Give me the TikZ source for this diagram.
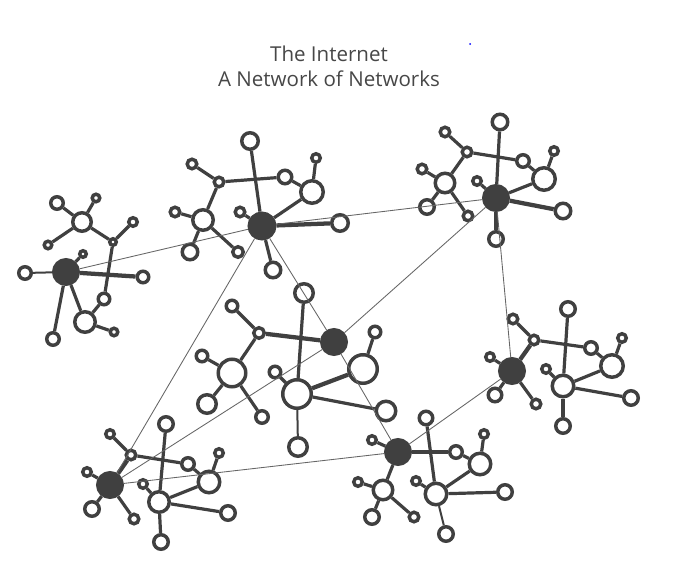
\documentclass[tikz,border=0pt]{standalone}
\usepackage{fontspec}
\setmainfont{Open Sans}
\usetikzlibrary{backgrounds}
\definecolor{netgray}{HTML}{404040}
\definecolor{wiregray}{HTML}{666666}
\definecolor{titlegray}{HTML}{474747}
\tikzset{
  % ring = host, #1 is its outer radius in px
  host/.style  = {circle, draw=netgray, fill=white, line width=2.6pt, inner sep=0pt,
                  minimum size={(1.5*#1-2.6)*1pt}},
  host/.default = 6,
  hub/.style   = {circle, draw=netgray, fill=netgray, line width=2.6pt, inner sep=0pt,
                  minimum size={(1.5*#1-2.6)*1pt}},
  hub/.default = 14,
  link/.style      = {netgray, line width=2.4pt},
  fat link/.style  = {netgray, line width=3.2pt},
  thin link/.style = {netgray, line width=1.5pt},
  wire/.style  = {wiregray, line width=0.65pt},
  title/.style = {font=\fontsize{15.4}{18.8}\selectfont, text=titlegray, align=center,
                  inner sep=0pt},
}

\begin{document}
\begin{tikzpicture}[x=0.75pt,y=-0.75pt]
\useasboundingbox (0,0) rectangle (678,571);
\node[title, anchor=north] (head) at (329,45.5) {The Internet\\A Network of Networks};
\node[circle, fill=blue, inner sep=0pt, minimum size=1.5pt] (dot) at (470,44) {};
% west cluster
\node[hub] (w-hub) at (66,272) {};
\node[host=8] (w-l) at (25,273) {};
\node[host=5] (w-x) at (83,254) {};
\node[host=7.5] (w-r) at (143,277) {};
\node[host=8] (w-bl) at (53,339) {};
\node[host=12] (w-e) at (85,322) {};
\node[host=7.5] (w-c) at (104,299) {};
\node[host=5.5] (w-h) at (114,332) {};
\node[host=5] (w-b) at (113,242) {};
\node[host=6] (w-j) at (133,222) {};
\node[host=11] (w-i) at (82,222) {};
\node[host=8] (w-a) at (57,203) {};
\node[host=5.5] (w-d) at (96,198) {};
\node[host=5.5] (w-f) at (48,245) {};
% north cluster
\node[hub=14.5] (n-hub) at (262,226) {};
\node[host=10] (n-a) at (250,141) {};
\node[host=6.5] (n-b) at (219,182) {};
\node[host=8.5] (n-c) at (285,177) {};
\node[host=6.5] (n-d) at (192,164) {};
\node[host=12] (n-e) at (203,220) {};
\node[host=6.5] (n-f) at (175,212) {};
\node[host=9.5] (n-g) at (190,252) {};
\node[host=7] (n-h) at (238,252) {};
\node[host=13] (n-i) at (312,192) {};
\node[host=6] (n-j) at (316,158) {};
\node[host=10] (n-k) at (340,223) {};
\node[host=6.5] (n-l) at (240,212) {};
\node[host=9.5] (n-m) at (273,270) {};
% north-east cluster
\node[hub] (ne-hub) at (496,198) {};
\node[host=9.5] (ne-a) at (500,122) {};
\node[host=6.5] (ne-b) at (467,152) {};
\node[host=8] (ne-c) at (523,161) {};
\node[host=6.5] (ne-d) at (445,132) {};
\node[host=11.5] (ne-e) at (445,183) {};
\node[host=6.5] (ne-f) at (422,169) {};
\node[host=9] (ne-g) at (427,207) {};
\node[host=6.5] (ne-h) at (468,216) {};
\node[host=13] (ne-i) at (544,179) {};
\node[host=6] (ne-j) at (554,151) {};
\node[host=9.5] (ne-k) at (563,211) {};
\node[host=6] (ne-l) at (477,181) {};
\node[host=9] (ne-m) at (496,239) {};
% middle cluster
\node[hub] (m-c) at (334,342) {};
\node[host=16] (m-p) at (297,394) {};
\node[host=11] (m-a) at (304,293) {};
\node[host=7] (m-b) at (259,333) {};
\node[host=7.5] (m-d) at (232,306) {};
\node[host=15.5] (m-e) at (232,373) {};
\node[host=7.5] (m-f) at (202,356) {};
\node[host=11] (m-g) at (207,404) {};
\node[host=8] (m-h) at (262,417) {};
\node[host=16] (m-i) at (363,369) {};
\node[host=7.5] (m-j) at (375,332) {};
\node[host=11.5] (m-k) at (386,411) {};
\node[host=7.5] (m-l) at (275,372) {};
\node[host=11] (m-m) at (298,447) {};
% east cluster
\node[hub] (e-hub) at (512,371) {};
\node[host=6.5] (e-b) at (534,340) {};
\node[host=6.5] (e-d) at (513,319) {};
\node[host=9] (e-a) at (568,309) {};
\node[host=8] (e-c) at (591,348) {};
\node[host=13] (e-i) at (612,366) {};
\node[host=6] (e-j) at (622,338) {};
\node[host=12.5] (e-p) at (563,386) {};
\node[host=6] (e-l) at (546,369) {};
\node[host=9] (e-k) at (631,398) {};
\node[host=9] (e-m) at (563,426) {};
\node[host=6] (e-x1) at (490,357) {};
\node[host=8.5] (e-x2) at (495,395) {};
\node[host=6.5] (e-x3) at (536,404) {};
% south cluster
\node[hub] (s-hub) at (398,452) {};
\node[host=6] (s-x) at (372,440) {};
\node[host=8] (s-c) at (456,452) {};
\node[host=8.5] (s-a) at (426,418) {};
\node[host=11.5] (s-e) at (383,490) {};
\node[host=6] (s-f) at (358,482) {};
\node[host=9] (s-g) at (372,517) {};
\node[host=6.5] (s-h) at (414,517) {};
\node[host=12.5] (s-p) at (436,494) {};
\node[host=6] (s-l) at (416,481) {};
\node[host=12.5] (s-i) at (480,464) {};
\node[host=6] (s-j) at (484,434) {};
\node[host=9] (s-k) at (505,492) {};
\node[host=9] (s-m) at (446,534) {};
% south-west cluster
\node[hub] (sw-hub) at (110,485) {};
\node[host=6] (sw-x1) at (87,472) {};
\node[host=9] (sw-x2) at (92,509) {};
\node[host=6.5] (sw-x3) at (134,519) {};
\node[host=6.5] (sw-b) at (131,455) {};
\node[host=6] (sw-d) at (110,434) {};
\node[host=9] (sw-a) at (166,424) {};
\node[host=8] (sw-c) at (188,464) {};
\node[host=12.5] (sw-i) at (209,482) {};
\node[host=6] (sw-j) at (219,453) {};
\node[host=12] (sw-p) at (159,502) {};
\node[host=6] (sw-l) at (143,484) {};
\node[host=9] (sw-k) at (228,513) {};
\node[host=9] (sw-m) at (161,542) {};
% links inside the clusters
\begin{scope}[on background layer]
\foreach \u/\v in {hub/x,hub/bl,hub/e,e/c,e/h,c/b,b/j,b/i,i/a,i/d,i/f}
  \draw[link] (w-\u) -- (w-\v);
\draw[thin link] (w-hub) -- (w-l);
\draw[fat link] (w-hub) -- (w-r);
\foreach \p in {n,ne} {
  \foreach \u/\v in {hub/a,hub/i,hub/l,hub/m,b/c,c/i,b/d,b/e,e/f,e/g,e/h,i/j}
    \draw[link] (\p-\u) -- (\p-\v);
  \draw[fat link] (\p-hub) -- (\p-k);
}
\foreach \u/\v in {p/a,p/k,p/l,b/d,b/e,e/f,e/g,e/h,i/j}
  \draw[link] (m-\u) -- (m-\v);
\draw[fat link] (m-p) -- (m-i);
\draw[fat link] (m-b) -- (m-c);
\draw[thin link] (m-p) -- (m-m);
\foreach \u/\v in {b/d,b/c,c/i,p/a,p/i,i/j,p/k,p/l,p/m,hub/x1,hub/x2,hub/x3}
  \draw[link] (e-\u) -- (e-\v);
\draw[fat link] (e-hub) -- (e-b);
\foreach \u/\v in {hub/x,c/i,a/p,hub/e,e/f,e/g,e/h,p/i,i/j,p/k,p/l}
  \draw[link] (s-\u) -- (s-\v);
\draw[fat link] (s-hub) -- (s-c);
\draw[thin link] (s-p) -- (s-m);
\foreach \u/\v in {hub/x1,hub/x2,hub/x3,b/d,b/c,c/i,a/p,p/i,i/j,p/k,p/l,p/m}
  \draw[link] (sw-\u) -- (sw-\v);
\draw[fat link] (sw-hub) -- (sw-b);
\end{scope}
% wires between the networks
\draw[wire] (w-hub) -- (n-hub);
\draw[wire] (n-hub) -- (ne-hub);
\draw[wire] (n-hub) -- (m-c);
\draw[wire] (m-c) -- (s-hub);
\draw[wire] (n-hub) -- (sw-hub);
\draw[wire] (ne-hub) -- (m-c);
\draw[wire] (m-c) -- (sw-hub);
\draw[wire] (ne-hub) -- (e-hub);
\draw[wire] (e-hub) -- (s-hub);
\draw[wire] (sw-hub) -- (s-hub);
\end{tikzpicture}
\end{document}
